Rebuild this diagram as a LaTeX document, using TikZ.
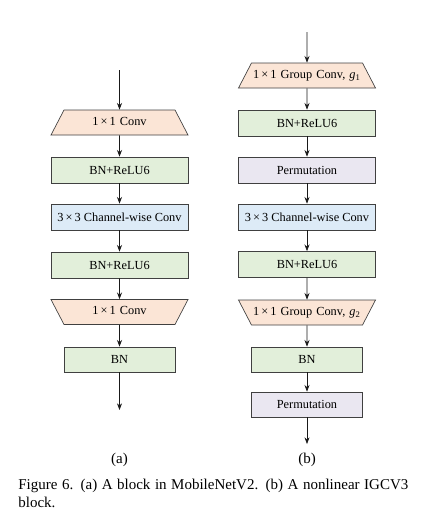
\documentclass[tikz,border=0pt]{standalone}
\usepackage{fontspec}
\setmainfont{Liberation Serif}
\usetikzlibrary{shapes.geometric,arrows.meta}
\definecolor{convfill}{RGB}{251,229,214}
\definecolor{bnfill}{RGB}{226,239,218}
\definecolor{dwfill}{RGB}{221,235,247}
\definecolor{permfill}{RGB}{234,231,241}
\newcommand{\bytimes}{\,×\,}
\begin{document}
\begin{tikzpicture}[>={Stealth[length=4pt,width=3pt]},x=0.6pt,y=-0.6pt]
	\tikzstyle{layer}=[draw=black!75,thin,font=\fontsize{7.4}{9}\selectfont,inner sep=0pt]
	\tikzstyle{wide}=[layer,rectangle,minimum width=82.2pt,minimum height=15.6pt]
	\tikzstyle{narrow}=[layer,rectangle,minimum width=66.6pt,minimum height=15pt]
	\tikzstyle{conv}=[layer,trapezium,trapezium left angle=62.5,trapezium right angle=62.5,text width=66.6pt,align=center,text height=5.2pt,text depth=1.8pt,inner xsep=0pt,inner ysep=4pt,fill=convfill]
	\tikzstyle{convdown}=[conv,shape border rotate=180]
	\tikzstyle{edge}=[draw=black!90,thin,->]
	\useasboundingbox (0,0) rectangle (438,519);

	% (a) MobileNetV2 block
	\coordinate (ain) at (119.5,70);
	\node [conv] (a1) at (119.5,122.5) {1\bytimes1 Conv};
	\node [wide,fill=bnfill] (a2) at (119.5,170) {BN+ReLU6};
	\node [wide,fill=dwfill] (a3) at (119.5,217) {3\bytimes3 Channel-wise Conv};
	\node [wide,fill=bnfill] (a4) at (119.5,265) {BN+ReLU6};
	\node [convdown] (a5) at (119.5,312) {1\bytimes1 Conv};
	\node [narrow,fill=bnfill] (a6) at (119.5,359.5) {BN};
	\coordinate (aout) at (119.5,410);

	\draw[edge] (ain) -- (a1);
	\draw[edge] (a1) -- (a2);
	\draw[edge] (a2) -- (a3);
	\draw[edge] (a3) -- (a4);
	\draw[edge] (a4) -- (a5);
	\draw[edge] (a5) -- (a6);
	\draw[edge] (a6) -- (aout);

	% (b) nonlinear IGCV3 block
	\coordinate (bin) at (307,32);
	\node [conv] (b1) at (307,75.5) {1\bytimes1 Group Conv, \textit{g}\textsubscript{1}};
	\node [wide,fill=bnfill] (b2) at (307,123) {BN+ReLU6};
	\node [wide,fill=permfill] (b3) at (307,170) {Permutation};
	\node [wide,fill=dwfill] (b4) at (307,217) {3\bytimes3 Channel-wise Conv};
	\node [wide,fill=bnfill] (b5) at (307,264.5) {BN+ReLU6};
	\node [convdown] (b6) at (307,312.5) {1\bytimes1 Group Conv, \textit{g}\textsubscript{2}};
	\node [narrow,fill=bnfill] (b7) at (307,359.5) {BN};
	\node [narrow,fill=permfill] (b8) at (307,404.5) {Permutation};
	\coordinate (bout) at (307,444);

	\draw[edge] (bin) -- (b1);
	\draw[edge] (b1) -- (b2);
	\draw[edge] (b2) -- (b3);
	\draw[edge] (b3) -- (b4);
	\draw[edge] (b4) -- (b5);
	\draw[edge] (b5) -- (b6);
	\draw[edge] (b6) -- (b7);
	\draw[edge] (b7) -- (b8);
	\draw[edge] (b8) -- (bout);

	% labels and caption
	\node [font=\fontsize{9}{11}\selectfont] (la) at (119.5,460) {(a)};
	\node [font=\fontsize{9}{11}\selectfont] (lb) at (307,460) {(b)};
	\node [anchor=north west,text width=234pt,align=justify,inner sep=0pt,font=\fontsize{9}{10.5}\selectfont] (caption) at (18,479) {Figure 6. (a) A block in MobileNetV2. (b) A nonlinear IGCV3 block.};
\end{tikzpicture}
\end{document}
